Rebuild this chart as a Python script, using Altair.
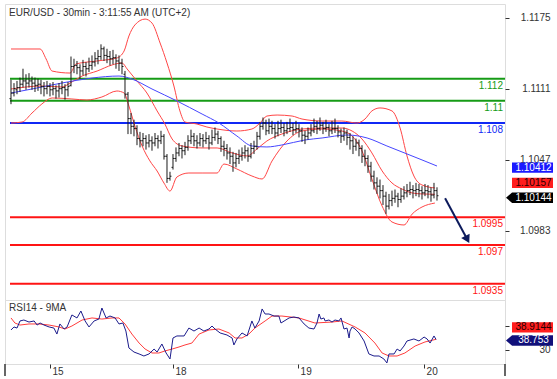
import altair as alt
import pandas as pd

TITLE = "EUR/USD - 30min - 3:11:55 AM (UTC+2)"
RSI_TITLE = "RSI14 - 9MA"

# ---- 30-minute OHLC bars (bar index = position) ----
opens = [1.1102,1.1107,1.1110,1.1112,1.1115,1.1118,1.1116,1.1118,1.1116,1.1114,
         1.1115,1.1113,1.1111,1.1113,1.1110,1.1111,1.1109,1.1111,1.1112,1.1110,
         1.1114,1.1131,1.1132,1.1130,1.1127,1.1131,1.1129,1.1132,1.1135,1.1138,
         1.1140,1.1147,1.1141,1.1140,1.1138,1.1139,1.1136,1.1134,1.1124,1.1106,
         1.1084,1.1077,1.1075,1.1066,1.1064,1.1066,1.1062,1.1064,1.1062,1.1066,
         1.1064,1.1068,1.1050,1.1030,1.1040,1.1048,1.1053,1.1057,1.1055,1.1058,
         1.1064,1.1068,1.1064,1.1062,1.1066,1.1064,1.1066,1.1062,1.1067,1.1070,
         1.1066,1.1059,1.1057,1.1053,1.1050,1.1044,1.1048,1.1050,1.1053,1.1055,
         1.1050,1.1057,1.1059,1.1068,1.1077,1.1080,1.1073,1.1077,1.1075,1.1071,
         1.1075,1.1076,1.1073,1.1075,1.1076,1.1074,1.1075,1.1073,1.1069,1.1068,
         1.1071,1.1073,1.1077,1.1075,1.1078,1.1075,1.1076,1.1073,1.1075,1.1075,
         1.1072,1.1068,1.1071,1.1067,1.1064,1.1059,1.1062,1.1057,1.1050,1.1048,
         1.1041,1.1032,1.1026,1.1023,1.1019,1.1014,1.1005,1.1010,1.1012,1.1014,
         1.1011,1.1014,1.1017,1.1019,1.1020,1.1019,1.1020,1.1019,1.1017,1.1019,
         1.1018,1.1015,1.1019]
highs = [1.1119,1.1116,1.1118,1.1121,1.1129,1.1124,1.1125,1.1122,1.1121,1.1120,
         1.1119,1.1117,1.1118,1.1116,1.1117,1.1114,1.1116,1.1118,1.1115,1.1117,
         1.1140,1.1138,1.1136,1.1133,1.1137,1.1135,1.1139,1.1141,1.1144,1.1146,
         1.1151,1.1149,1.1147,1.1145,1.1146,1.1142,1.1141,1.1138,1.1127,1.1108,
         1.1089,1.1083,1.1078,1.1072,1.1071,1.1069,1.1070,1.1068,1.1071,1.1069,
         1.1073,1.1070,1.1052,1.1036,1.1052,1.1058,1.1062,1.1060,1.1063,1.1069,
         1.1074,1.1071,1.1069,1.1071,1.1070,1.1072,1.1069,1.1074,1.1076,1.1073,
         1.1068,1.1064,1.1061,1.1058,1.1054,1.1053,1.1056,1.1058,1.1060,1.1058,
         1.1062,1.1064,1.1072,1.1081,1.1085,1.1083,1.1084,1.1082,1.1079,1.1082,
         1.1083,1.1080,1.1081,1.1084,1.1080,1.1082,1.1079,1.1076,1.1073,1.1076,
         1.1079,1.1084,1.1082,1.1085,1.1081,1.1083,1.1079,1.1082,1.1084,1.1078,
         1.1075,1.1076,1.1074,1.1071,1.1068,1.1066,1.1065,1.1060,1.1056,1.1051,
         1.1045,1.1037,1.1031,1.1029,1.1024,1.1018,1.1016,1.1019,1.1020,1.1017,
         1.1021,1.1023,1.1025,1.1027,1.1024,1.1026,1.1025,1.1023,1.1025,1.1024,
         1.1022,1.1026,1.1022]
lows = [1.1097,1.1104,1.1106,1.1108,1.1112,1.1110,1.1112,1.1110,1.1108,1.1109,
        1.1106,1.1104,1.1106,1.1104,1.1105,1.1102,1.1103,1.1106,1.1101,1.1104,
        1.1113,1.1125,1.1124,1.1120,1.1123,1.1122,1.1126,1.1128,1.1131,1.1133,
        1.1137,1.1136,1.1134,1.1132,1.1133,1.1129,1.1127,1.1124,1.1102,1.1070,
        1.1070,1.1068,1.1060,1.1058,1.1059,1.1056,1.1058,1.1055,1.1059,1.1057,
        1.1061,1.1047,1.1026,1.1028,1.1038,1.1045,1.1050,1.1048,1.1051,1.1055,
        1.1061,1.1059,1.1057,1.1059,1.1058,1.1061,1.1056,1.1060,1.1064,1.1061,
        1.1054,1.1050,1.1047,1.1043,1.1036,1.1040,1.1043,1.1046,1.1048,1.1045,
        1.1048,1.1052,1.1056,1.1065,1.1074,1.1069,1.1070,1.1070,1.1066,1.1068,
        1.1071,1.1068,1.1070,1.1072,1.1069,1.1071,1.1067,1.1063,1.1061,1.1065,
        1.1068,1.1071,1.1070,1.1073,1.1070,1.1072,1.1068,1.1070,1.1071,1.1067,
        1.1062,1.1064,1.1060,1.1056,1.1052,1.1055,1.1050,1.1044,1.1041,1.1035,
        1.1027,1.1020,1.1016,1.1012,1.1006,1.0998,1.1002,1.1005,1.1008,1.1004,
        1.1008,1.1011,1.1013,1.1015,1.1012,1.1014,1.1013,1.1011,1.1014,1.1012,
        1.1009,1.1012,1.1010]
closes = [1.1107,1.1111,1.1112,1.1115,1.1118,1.1116,1.1118,1.1116,1.1114,1.1115,
          1.1113,1.1111,1.1113,1.1110,1.1111,1.1109,1.1111,1.1112,1.1110,1.1113,
          1.1131,1.1132,1.1130,1.1127,1.1131,1.1129,1.1132,1.1135,1.1138,1.1140,
          1.1147,1.1141,1.1140,1.1138,1.1139,1.1136,1.1134,1.1131,1.1106,1.1084,
          1.1077,1.1075,1.1066,1.1064,1.1066,1.1062,1.1064,1.1062,1.1066,1.1064,
          1.1068,1.1050,1.1030,1.1032,1.1048,1.1053,1.1057,1.1055,1.1058,1.1064,
          1.1068,1.1064,1.1062,1.1066,1.1064,1.1066,1.1062,1.1067,1.1070,1.1066,
          1.1059,1.1057,1.1053,1.1050,1.1044,1.1048,1.1050,1.1053,1.1055,1.1050,
          1.1057,1.1059,1.1068,1.1077,1.1080,1.1073,1.1077,1.1075,1.1071,1.1075,
          1.1076,1.1073,1.1075,1.1076,1.1074,1.1075,1.1073,1.1069,1.1068,1.1071,
          1.1073,1.1077,1.1075,1.1078,1.1075,1.1076,1.1073,1.1075,1.1075,1.1072,
          1.1068,1.1071,1.1067,1.1064,1.1059,1.1062,1.1057,1.1050,1.1048,1.1041,
          1.1032,1.1026,1.1023,1.1019,1.1014,1.1005,1.1010,1.1012,1.1014,1.1011,
          1.1014,1.1017,1.1019,1.1020,1.1019,1.1020,1.1019,1.1017,1.1019,1.1018,
          1.1015,1.1019,1.10144]

# ---- Bollinger bands (20) and moving average, read at bar positions ----
bb_upper_i = [0,9.7,11.7,13.7,19.7,21.7,28.7,35.3,37.7,39.3,41.3,44.7,47,49.7,52,54.3,56.3,58,62,
              65.3,68.7,75.3,80.3,83,85.3,88.7,93.7,97,103.7,110.3,115.3,118,120.3,123,127,129.7,
              132,134.3,137,141.3]
bb_upper = [1.11468,1.11468,1.11378,1.11269,1.11251,1.11333,1.11360,1.11387,1.11450,1.11585,
            1.11685,1.11738,1.11702,1.11522,1.11342,1.11134,1.10909,1.10809,1.10791,1.10764,
            1.10746,1.10728,1.10746,1.10800,1.10863,1.10872,1.10863,1.10836,1.10818,1.10818,
            1.10800,1.10836,1.10909,1.10936,1.10909,1.10755,1.10503,1.10322,1.10241,1.10214]
bb_mid_i = [0,10.3,17,19.7,23.7,28.7,33.7,37,38.7,42,45.3,48.7,51.3,53.7,57,63.7,68.7,73.7,78.7,
            82,85.3,90.3,97,103.7,110.3,113.7,117,120.3,123.7,127,130.3,133.7,137,141.3]
bb_mid = [1.11107,1.11134,1.11125,1.11161,1.11224,1.11269,1.11324,1.11342,1.11288,1.11179,
          1.11071,1.10909,1.10791,1.10656,1.10593,1.10575,1.10575,1.10530,1.10503,1.10566,
          1.10638,1.10701,1.10746,1.10755,1.10755,1.10728,1.10656,1.10530,1.10368,1.10259,
          1.10205,1.10169,1.10160,1.10157]
bb_lower_i = [0,3.7,7,10.3,13.7,20.3,25.3,30.3,35.3,37.7,39.3,41.3,43.7,46.3,48.7,51,53,55.3,
              59.3,63.7,68.7,71,75.3,80.3,83.7,87,92,97,103.7,110.3,113.7,117,120.3,123.7,127,
              131,133.7,137,141.3]
bb_lower = [1.10800,1.10809,1.10890,1.10972,1.11026,1.11017,1.11008,1.11035,1.11089,1.11071,
            1.10954,1.10773,1.10593,1.10458,1.10367,1.10258,1.10186,1.10313,1.10349,1.10349,
            1.10349,1.10430,1.10385,1.10322,1.10295,1.10457,1.10638,1.10728,1.10746,1.10728,
            1.10683,1.10548,1.10295,1.10051,1.09907,1.09880,1.09978,1.10042,1.10078]
ma_i = [0,7,17,27,36,40.3,47,55.3,63.7,69.3,75.3,80.3,85.3,90.3,98,103.7,112,118.7,125.3,132,137,142]
ma = [1.11071,1.11107,1.11161,1.11206,1.11224,1.11197,1.11107,1.10999,1.10881,1.10800,1.10683,
      1.10593,1.10584,1.10602,1.10647,1.10665,1.10692,1.10665,1.10593,1.10521,1.10467,1.10412]

# ---- RSI(14) and its 9-period MA ----
rsi_i = [0,1,2,3,4.3,6,7.7,8.7,9.7,11,12.7,14.3,15.3,16.3,17.7,18.7,20.3,22,23.3,24.7,26,27.7,
         29.3,30.3,31.7,33,34.7,36,37.3,38.3,39.3,41,42.7,44.3,46,47.7,48.7,50.3,51.7,53,54,55.3,
         57.7,59.3,61,62.7,64.3,66,67,68,69.7,72,73.7,74.3,75.3,77,78.7,80.3,81.3,82.7,83.7,84.7,
         86,87.7,89.3,90,92.7,94.3,96,97.7,99.3,101,102,102.7,103.3,104.3,104.7,106,107,108,
         109.3,110,111,112,112.7,113,113.7,114.7,116,117.7,119.3,121,122.7,124.3,125.3,126,127.7,
         128.7,129.7,131,132,134.3,136,137.7,138.7,139.7,141,141.7]
rsi = [46.7,49.2,48.3,54.2,55.0,53.3,54.2,50.8,52.5,50.8,49.2,48.3,43.3,51.7,47.5,49.2,59.2,56.7,
       62.5,54.2,49.2,54.2,55.8,65.0,56.7,58.3,56.7,51.7,52.5,45.8,31.7,28.3,26.7,25.0,26.7,30.8,
       28.3,35.0,27.5,22.5,40.0,41.7,41.7,48.3,45.8,48.3,45.8,47.5,50.0,47.5,44.2,42.5,40.0,34.2,
       39.2,44.2,41.7,54.2,48.3,54.2,64.2,60.0,60.0,58.3,58.3,52.5,56.7,57.5,56.7,51.7,48.3,47.5,
       52.5,60.0,55.8,56.7,54.2,55.0,53.3,55.0,54.2,56.7,47.5,48.3,40.0,45.8,49.2,47.5,44.2,37.5,
       26.7,25.0,25.0,22.5,19.2,26.7,26.7,30.8,29.2,33.3,37.5,39.2,37.5,40.8,39.2,35.8,41.7,38.753]
rsi_ma_i = [0,1.3,3,6,9.3,12.7,16,18,20.3,23.7,27,30.3,33.7,36,38,40.3,42.7,44.7,47,49.3,51.3,
            53.7,56,58,60.3,62.7,66,69.3,72.7,74.7,77,79.3,81.3,84.7,87,90.3,96,101.3,107,110.3,
            114.7,118,121.3,123.7,126,128.7,131.3,134.7,138,141.7]
rsi_ma = [56.7,52.5,50.8,51.7,51.7,50.8,49.2,47.5,50.0,55.0,56.7,55.8,56.7,56.7,51.7,43.3,35.8,
          30.8,27.5,27.5,29.2,30.8,32.5,34.2,35.8,43.3,46.7,47.5,44.2,40.0,40.0,43.3,48.3,54.2,
          58.3,58.3,56.7,52.5,53.3,54.2,49.2,44.2,35.8,27.5,25.0,25.0,27.5,33.3,36.7,38.9144]

# ---- support / resistance levels ----
levels = [1.112, 1.11, 1.108, 1.0995, 1.097, 1.0935]
level_text = ["1.112", "1.11", "1.108", "1.0995", "1.097", "1.0935"]
level_kind = ["resistance", "resistance", "pivot", "support", "support", "support"]

price_ticks = [1.1175, 1.1111, 1.1047, 1.0983]
rsi_ticks = [30, 50]
rsi_tick_labels = ["30", ""]
day_ticks = [13, 54, 95.7, 137.7]
day_labels = ["15", "18", "19", "20"]

last_ma, last_mid, last_close = 1.10412, 1.10157, 1.10144
last_rsi, last_rsi_ma = 38.753, 38.9144

arrow_i = [144.7, 151.9]
arrow_v = [1.10121, 1.09760]

# ---------------------------------------------------------------
W, H1, H2 = 500, 296, 64
FONT = "Liberation Sans"
xs = alt.Scale(domain=[-2, 164.67], nice=False, zero=False)
ys = alt.Scale(domain=[1.09203, 1.11874], nice=False, zero=False)
rs = alt.Scale(domain=[18.33, 71.67], nice=False, zero=False)


def label_expr(vals, labs):
    return " : ".join(f"datum.value == {v} ? '{l}'" for v, l in zip(vals, labs)) + " : ''"


price_axis = alt.Axis(orient="right", values=price_ticks, format=".4f", tickSize=4,
                      labelPadding=41, labelAlign="right", grid=False, domain=False,
                      title=None, labelFontSize=10, labelColor="#333", tickColor="#333",
                      labelFont=FONT, zindex=0)
rsi_axis = alt.Axis(orient="right", values=rsi_ticks,
                    labelExpr=label_expr(rsi_ticks, rsi_tick_labels), tickSize=4,
                    labelPadding=41, labelAlign="right", grid=False, domain=False,
                    title=None, labelFontSize=10, labelColor="#333", tickColor="#333",
                    labelFont=FONT, zindex=0)


def X(f):
    return alt.X(f, type="quantitative", scale=xs, axis=None)


def Y(f):
    return alt.Y(f, type="quantitative", scale=ys, axis=price_axis)


def R(f):
    return alt.Y(f, type="quantitative", scale=rs, axis=rsi_axis)


bars = pd.DataFrame({"i": list(range(len(closes))), "o": opens, "h": highs,
                     "l": lows, "c": closes})

bar_col = "#1a1a1a"
hl = alt.Chart(bars).mark_rule(color=bar_col, strokeWidth=1).encode(
    x=X("i"), y=Y("l"), y2="h")
op = alt.Chart(bars).transform_calculate(a="datum.i - 0.5").mark_rule(
    color=bar_col, strokeWidth=1).encode(x=X("a"), x2="i", y=Y("o"))
cl = alt.Chart(bars).transform_calculate(b="datum.i + 0.5").mark_rule(
    color=bar_col, strokeWidth=1).encode(x=X("i"), x2="b", y=Y("c"))


def series(idx, vals, name):
    return pd.DataFrame({"i": idx, "v": vals, "s": name})


bands = pd.concat([series(bb_upper_i, bb_upper, "up"),
                   series(bb_mid_i, bb_mid, "mid"),
                   series(bb_lower_i, bb_lower, "low")])
band_lines = alt.Chart(bands).mark_line(color="#ff4646", strokeWidth=1,
                                        interpolate="monotone").encode(
    x=X("i"), y=Y("v"), detail="s:N")
ma_line = alt.Chart(series(ma_i, ma, "ma")).mark_line(
    color="#4646ff", strokeWidth=1, interpolate="monotone").encode(x=X("i"), y=Y("v"))

lv = pd.DataFrame({"v": levels, "t": level_text, "k": level_kind})
line_col = alt.Scale(domain=["resistance", "pivot", "support"],
                     range=["#169b16", "#1028f5", "#ff1414"])
text_col = alt.Scale(domain=["resistance", "pivot", "support"],
                     range=["#6c9c34", "#4a5ce8", "#ff4c4c"])
lvl_rules = alt.Chart(lv).mark_rule(strokeWidth=2).encode(
    x=alt.value(5), x2=alt.value(W), y=Y("v"),
    color=alt.Color("k:N", scale=line_col, legend=None))
lvl_text = alt.Chart(lv).mark_text(align="right", baseline="top", dy=2,
                                   fontSize=10, font=FONT).encode(
    x=alt.value(W - 2), y=Y("v"), text="t:N",
    color=alt.Color("k:N", scale=text_col, legend=None))

arrow_df = pd.DataFrame({"i": arrow_i, "v": arrow_v})
arrow_line = alt.Chart(arrow_df).mark_line(color="#0c1a5c", strokeWidth=2).encode(
    x=X("i"), y=Y("v"))
arrow_head = alt.Chart(arrow_df.tail(1)).mark_point(
    shape="triangle", filled=True, size=90, angle=152, color="#0c1a5c", opacity=1).encode(
    x=X("i"), y=Y("v"))

BOX = "M-1,-0.25L1,-0.25L1,0.25L-1,0.25Z"
ARROWBOX = "M-1,0L-0.74,-0.22L1,-0.22L1,0.22L-0.74,0.22Z"


def tag(val, txt, fill, tcol, yoff, arrow, yenc):
    df = pd.DataFrame({"v": [val], "t": [txt]})
    if arrow:
        shp = alt.Chart(df).mark_point(shape=ARROWBOX, filled=True, size=2209, color=fill,
                                       opacity=1, yOffset=yoff).encode(
            x=alt.value(524.5), y=yenc("v"))
    else:
        shp = alt.Chart(df).mark_point(shape=BOX, filled=True, size=1681, color=fill,
                                       opacity=1, yOffset=yoff).encode(
            x=alt.value(527.5), y=yenc("v"))
    txt_m = alt.Chart(df).mark_text(fontSize=10, font=FONT, color=tcol, yOffset=yoff,
                                    align="center", baseline="middle").encode(
        x=alt.value(528.5), y=yenc("v"), text="t:N")
    return shp + txt_m


price_tags = (tag(last_ma, "1.10412", "#1a1aff", "white", 1.5, False, Y)
              + tag(last_mid, "1.10157", "#ff1e1e", "#2a0000", -11.5, False, Y)
              + tag(last_close, "1.10144", "#000000", "white", 2, True, Y))

title_df = pd.DataFrame({"t": [TITLE]})
title_m = alt.Chart(title_df).mark_text(align="left", baseline="middle", fontSize=10,
                                        font=FONT, color="#333").encode(
    x=alt.value(4), y=alt.value(9), text="t:N")

top = alt.layer(lvl_rules, band_lines, ma_line, hl, op, cl, lvl_text,
                arrow_line, arrow_head, price_tags, title_m).properties(width=W, height=H1)

# ---- RSI panel ----
rsi_df = series(rsi_i, rsi, "rsi")
rsi_line = alt.Chart(rsi_df).mark_line(color="#1c1c8c", strokeWidth=1).encode(
    x=alt.X("i", type="quantitative", scale=xs,
            axis=alt.Axis(values=day_ticks, labelExpr=label_expr(day_ticks, day_labels),
                          tickSize=4, labelAlign="left", labelOffset=2, labelPadding=-2,
                          labelBaseline="top", domain=False, grid=False, title=None,
                          labelFontSize=10, labelFont=FONT, labelColor="#333",
                          tickColor="#333")),
    y=R("v"))
rsi_ma_line = alt.Chart(series(rsi_ma_i, rsi_ma, "ma")).mark_line(
    color="#ff3c3c", strokeWidth=1).encode(x=alt.X("i", type="quantitative", scale=xs),
                                           y=R("v"))
rsi_tags = (tag(last_rsi_ma, "38.9144", "#ff1e1e", "#2a0000", -12, False, R)
            + tag(last_rsi, "38.753", "#10107a", "white", 1, True, R))
rsi_title = alt.Chart(pd.DataFrame({"t": [RSI_TITLE]})).mark_text(
    align="left", baseline="middle", fontSize=10, font=FONT, color="#333").encode(
    x=alt.value(4), y=alt.value(8), text="t:N")
frame = alt.Chart(pd.DataFrame({"z": [0, W]})).mark_rule(color="#333", strokeWidth=1.5).encode(
    x=alt.X("z", type="quantitative", scale=alt.Scale(domain=[0, W], range=[0, W]),
            axis=None),
    y=alt.value(H2), y2=alt.value(H2 + 12))

bottom = alt.layer(rsi_ma_line, rsi_line, rsi_tags, rsi_title).properties(width=W, height=H2)
bottom = alt.layer(bottom, frame).resolve_scale(x="independent")

chart = alt.vconcat(top, bottom, spacing=0, bounds="flush").properties(
    padding={"left": 3, "top": 3, "right": 0, "bottom": 0}
).configure_view(stroke="#333", strokeWidth=1.5).configure(background="white")

chart.save("out.html", embed_options={"renderer": "svg", "actions": False})
